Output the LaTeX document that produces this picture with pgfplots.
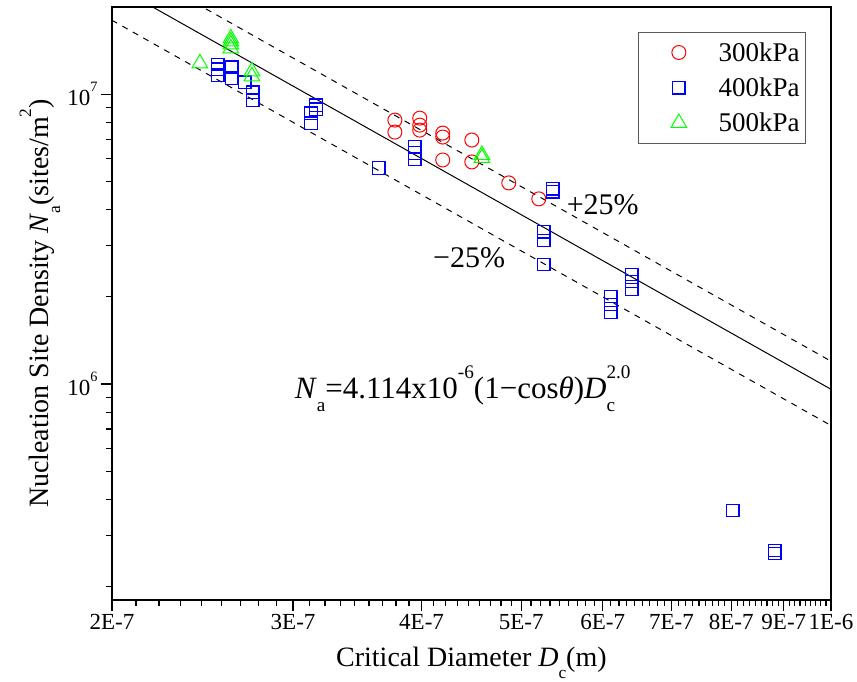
\documentclass[border=0pt]{standalone}
\usepackage{fontspec}
\setmainfont{Liberation Serif}
\usepackage{graphicx}
\usepackage{pgfplots}
\pgfplotsset{compat=1.18}

% Origin-style low subscripts and high superscripts
\newcommand\lo[1]{\raisebox{-0.42em}{\scalebox{0.62}{#1}}}
\newcommand\hi[1]{\raisebox{0.62em}{\scalebox{0.62}{#1}}}

\definecolor{pRed}{RGB}{255,0,0}
\definecolor{pBlue}{RGB}{0,0,255}
\definecolor{pGreen}{RGB}{0,255,0}

\begin{document}
\begin{tikzpicture}
\useasboundingbox (-112pt,-82pt) rectangle (745pt,600pt);
\begin{axis}[
  at={(0pt,0pt)}, anchor=south west,
  scale only axis, width=719pt, height=593pt,
  xmode=log, ymode=log,
  xmin=2e-7, xmax=1e-6, ymin=1.8e5, ymax=2e7,
  axis line style={line width=1.5pt},
  xtick={2e-7,3e-7,4e-7,5e-7,6e-7,7e-7,8e-7,9e-7,1e-6},
  xticklabels={2E-7,3E-7,4E-7,5E-7,6E-7,7E-7,8E-7,9E-7,1E-6},
  minor xtick={
    2.1111e-7,2.2222e-7,2.3333e-7,2.4444e-7,2.5556e-7,2.6667e-7,2.7778e-7,2.8889e-7,
    3.1111e-7,3.2222e-7,3.3333e-7,3.4444e-7,3.5556e-7,3.6667e-7,3.7778e-7,3.8889e-7,
    4.1111e-7,4.2222e-7,4.3333e-7,4.4444e-7,4.5556e-7,4.6667e-7,4.7778e-7,4.8889e-7,
    5.1111e-7,5.2222e-7,5.3333e-7,5.4444e-7,5.5556e-7,5.6667e-7,5.7778e-7,5.8889e-7,
    6.1111e-7,6.2222e-7,6.3333e-7,6.4444e-7,6.5556e-7,6.6667e-7,6.7778e-7,6.8889e-7,
    7.1111e-7,7.2222e-7,7.3333e-7,7.4444e-7,7.5556e-7,7.6667e-7,7.7778e-7,7.8889e-7,
    8.1111e-7,8.2222e-7,8.3333e-7,8.4444e-7,8.5556e-7,8.6667e-7,8.7778e-7,8.8889e-7,
    9.1111e-7,9.2222e-7,9.3333e-7,9.4444e-7,9.5556e-7,9.6667e-7,9.7778e-7,9.8889e-7},
  ytick={1e6,1e7},
  yticklabels={10\hi{6},10\hi{7}},
  minor ytick={2e5,3e5,4e5,5e5,6e5,7e5,8e5,9e5,2e6,3e6,4e6,5e6,6e6,7e6,8e6,9e6},
  xtick pos=bottom, ytick pos=left,
  tick align=outside,
  major tick length=11pt, minor tick length=6pt,
  every tick/.style={black, line width=1.2pt},
  tick label style={font=\fontsize{23}{26}\selectfont},
  label style={font=\fontsize{28}{32}\selectfont},
  xlabel={Critical Diameter \textit{D}\lo{c}(m)},
  ylabel={Nucleation Site Density \textit{N}\lo{a}(sites/m\hi{2})},
  xlabel style={at={(axis description cs:0.5,-0.112)}, anchor=base},
  ylabel style={at={(axis description cs:-0.1,0.5)}, anchor=center},
  legend style={at={(axis description cs:1,1)}, anchor=north east,
    xshift=-25pt, yshift=-25pt, draw=black!65, line width=0.8pt,
    inner xsep=6pt, inner ysep=10pt, row sep=15pt,
    nodes={inner sep=0pt, font=\fontsize{27}{30}\selectfont},
    /tikz/every odd column/.append style={column sep=19pt}},
  legend cell align=left,
  legend image code/.code={\path (-34pt,0pt) (20pt,0pt); \draw[#1] plot coordinates {(0pt,0pt)};},
]

% 300 kPa
\addplot[only marks, mark=o, mark size=7pt, pRed, line width=1pt] coordinates {
  (3.768e-7,8.141e6) (3.768e-7,7.402e6)
  (3.984e-7,8.270e6) (3.984e-7,7.824e6) (3.984e-7,7.520e6)
  (4.194e-7,7.344e6) (4.194e-7,7.116e6) (4.194e-7,5.932e6)
  (4.476e-7,6.949e6) (4.476e-7,5.839e6)
  (4.862e-7,4.944e6) (5.200e-7,4.355e6)
};
\addlegendentry{300kPa}

% 400 kPa
\addplot[only marks, mark=square, mark size=6.2pt, pBlue, line width=1.25pt] coordinates {
  (2.535e-7,1.2680e7) (2.535e-7,1.2189e7) (2.535e-7,1.1624e7)
  (2.616e-7,1.2383e7) (2.616e-7,1.1348e7)
  (2.693e-7,1.0995e7)
  (2.742e-7,1.0159e7) (2.742e-7,9.536e6)
  (3.123e-7,8.603e6) (3.123e-7,7.950e6)
  (3.158e-7,9.166e6) (3.158e-7,8.880e6)
  (3.634e-7,5.568e6)
  (3.940e-7,6.576e6) (3.940e-7,6.271e6) (3.940e-7,5.980e6)
  (5.365e-7,4.715e6) (5.365e-7,4.604e6)
  (5.259e-7,3.355e6) (5.259e-7,3.125e6) (5.259e-7,2.585e6)
  (6.403e-7,2.388e6) (6.403e-7,2.259e6) (6.403e-7,2.121e6)
  (6.109e-7,2.006e6) (6.109e-7,1.883e6) (6.109e-7,1.768e6)
  (8.027e-7,3.661e5)
  (8.818e-7,2.668e5) (8.818e-7,2.605e5)
};
\addlegendentry{400kPa}

% 500 kPa
\addplot[only marks, mark=triangle, mark size=9pt, pGreen, line width=1pt] coordinates {
  (2.435e-7,1.2781e7)
  (2.610e-7,1.5574e7) (2.610e-7,1.5208e7) (2.610e-7,1.4851e7) (2.610e-7,1.4389e7)
  (2.736e-7,1.1998e7) (2.736e-7,1.1532e7)
  (4.578e-7,6.172e6) (4.578e-7,6.027e6)
};
\addlegendentry{500kPa}

% correlation and +/-25% band
\addplot[black, line width=1pt, forget plot] coordinates {(2e-7,2.4e7) (1e-6,9.6e5)};
\addplot[black, line width=1pt, dash pattern=on 6pt off 6pt, forget plot] coordinates {(2e-7,3.0e7) (1e-6,1.2e6)};
\addplot[black, line width=1pt, dash pattern=on 6pt off 6pt, forget plot] coordinates {(2e-7,1.8e7) (1e-6,7.2e5)};

\node[font=\fontsize{30}{34}\selectfont, anchor=center] at (axis cs:6.0e-7,4.16e6) {+25\%};
\node[font=\fontsize{30}{34}\selectfont, anchor=center] at (axis cs:4.45e-7,2.73e6) {−25\%};
\node[font=\fontsize{31}{34}\selectfont, anchor=base west, inner sep=0pt] at (axis cs:3.01e-7,8.95e5)
  {\textit{N}\lo{a}=4.114x10\hi{-6}(1−cos\textit{θ})\textit{D}\rlap{\lo{c}}\hi{2.0}};
\end{axis}
\end{tikzpicture}
\end{document}
